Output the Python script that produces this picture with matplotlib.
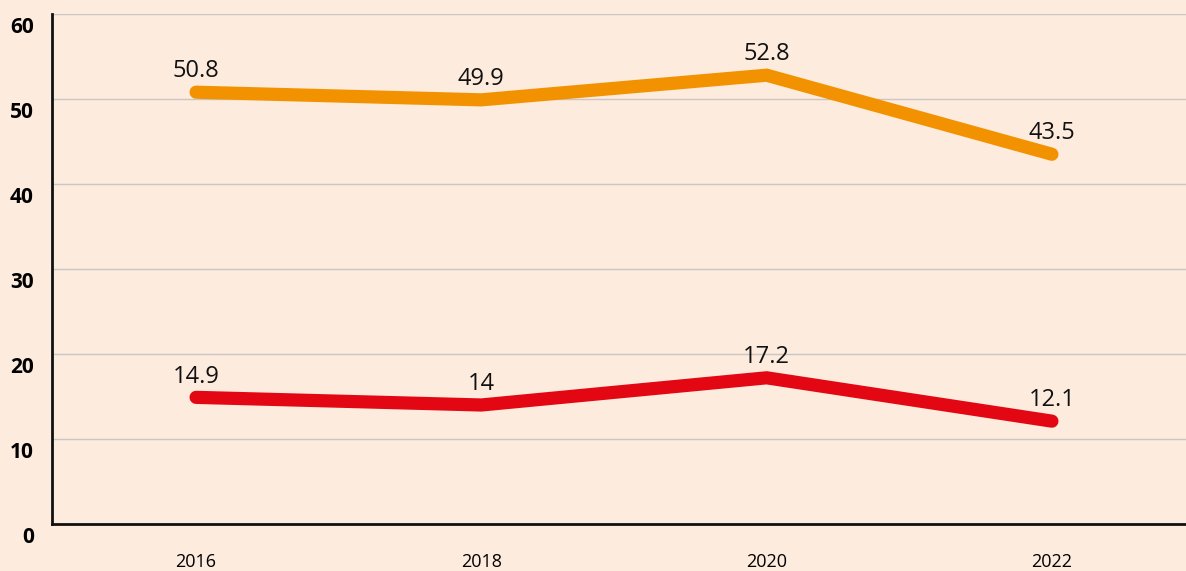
import matplotlib.pyplot as plt
import matplotlib.transforms as mtransforms

years = ['2016', '2018', '2020', '2022']
orange_vals = [50.8, 49.9, 52.8, 43.5]
red_vals = [14.9, 14.0, 17.2, 12.1]
orange_labels = ['50.8', '49.9', '52.8', '43.5']
red_labels = ['14.9', '14', '17.2', '12.1']
yticks = [0, 10, 20, 30, 40, 50, 60]

bg = '#fdebde'
plt.rcParams['font.family'] = ['Open Sans', 'DejaVu Sans']

fig = plt.figure(figsize=(11.86, 5.71), dpi=100, facecolor=bg)
ax = fig.add_axes([52 / 1186, 47 / 571, 1 - 52 / 1186, (524 - 14) / 571])
ax.set_facecolor(bg)

x = list(range(len(years)))
ax.plot(x, orange_vals, color='#f39200', lw=9.5, solid_capstyle='round',
        solid_joinstyle='miter', zorder=3)
ax.plot(x, red_vals, color='#e30613', lw=9.5, solid_capstyle='round',
        solid_joinstyle='miter', zorder=3)

for xi, v, s in zip(x, orange_vals, orange_labels):
    ax.annotate(s, (xi, v), xytext=(0, 15), textcoords='offset points',
                ha='center', va='center', fontsize=17, color='#111111')
for xi, v, s in zip(x, red_vals, red_labels):
    ax.annotate(s, (xi, v), xytext=(0, 15), textcoords='offset points',
                ha='center', va='center', fontsize=17, color='#111111')

ax.set_xlim(-0.505, 3.47)
ax.set_ylim(0, 60)
ax.set_xticks(x)
ax.set_xticklabels(years, fontsize=13)
ax.set_yticks(yticks)
ax.set_yticklabels([str(t) for t in yticks], fontsize=15, fontweight='bold')
ax.tick_params(axis='both', length=0)
ax.tick_params(axis='x', pad=21)
ax.tick_params(axis='y', pad=13)

offset = mtransforms.ScaledTranslation(0, -11 / 100, fig.dpi_scale_trans)
for lab in ax.get_yticklabels():
    lab.set_transform(lab.get_transform() + offset)

ax.grid(axis='y', color='#c9c6c3', lw=1)
ax.set_axisbelow(True)
for side in ['top', 'right']:
    ax.spines[side].set_visible(False)
ax.spines['left'].set_linewidth(2)
ax.spines['bottom'].set_linewidth(2)
ax.spines['left'].set_color('#111111')
ax.spines['bottom'].set_color('#111111')

fig.savefig('out.png', dpi=100, facecolor=bg)
